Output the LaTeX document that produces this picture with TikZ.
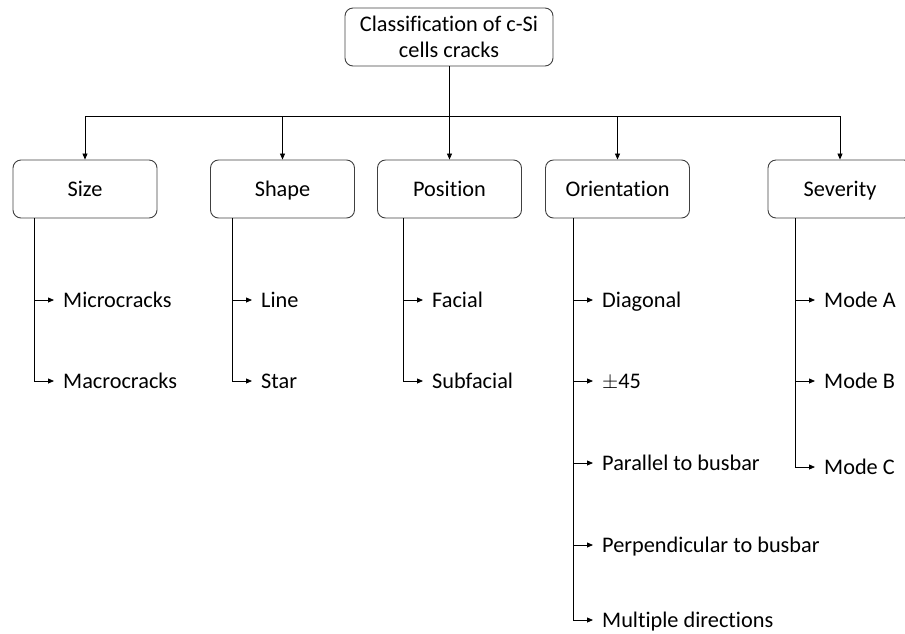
\documentclass[tikz,border=0pt]{standalone}
\usepackage{fontspec}
\setmainfont[Ligatures=NoCommon]{Carlito}
\usetikzlibrary{arrows.meta}
\begin{document}
\begin{tikzpicture}[x=1pt,y=-1pt,
  txt/.style={font=\fontsize{22.3}{26}\selectfont},
  box/.style={txt, draw=black!75, line width=0.9pt, rounded corners=8pt,
    minimum width=144pt, minimum height=58pt, inner sep=0pt},
  cat/.style={box, text height=14pt, text depth=0pt},
  item/.style={txt, anchor=west, inner sep=0pt, text height=14pt, text depth=0pt},
  conn/.style={line width=0.8pt, black},
  arr/.style={conn, -{Triangle[length=6pt,width=5pt]}}]
\clip (0,0) rectangle (905,633);
% root
\node[box, minimum width=208pt, align=center] (root) at (449,37) {Classification of c-Si\\cells cracks};
% categories
\node[cat] (size) at (85,189) {Size};
\node[cat] (shape) at (282.5,189) {Shape};
\node[cat] (pos) at (449.5,189) {Position};
\node[cat] (orient) at (617.5,189) {Orientation};
\node[cat] (sev) at (840,189) {Severity};
% bar
\coordinate (bar) at (449,116);
\coordinate (barL) at (85,116);
\coordinate (barR) at (840,116);
\draw[conn] (root.south) -- (bar);
\draw[conn] (barL) -- (barR);
\foreach \n in {size,shape,pos,orient,sev}{
  \draw[arr] (\n.north |- bar) -- (\n.north);
}
% items
\node[item] (micro) at (63,300) {Microcracks};
\node[item] (macro) at (63,381) {Macrocracks};
\node[item] (line) at (261,300) {Line};
\node[item] (star) at (261,381) {Star};
\node[item] (facial) at (432,300) {Facial};
\node[item] (subfacial) at (432,381) {Subfacial};
\node[item] (diag) at (602,300) {Diagonal};
\node[item] (pm) at (602,381) {$\pm$45};
\node[item] (par) at (602,463) {Parallel to busbar};
\node[item] (perp) at (602,545) {Perpendicular to busbar};
\node[item] (mult) at (602,620) {Multiple directions};
\node[item] (ma) at (824,300) {Mode A};
\node[item] (mb) at (824,381) {Mode B};
\node[item] (mc) at (824,467) {Mode C};
% stems
\coordinate (s1) at (34,218);
\coordinate (s2) at (232,218);
\coordinate (s3) at (403,218);
\coordinate (s4) at (573,218);
\coordinate (s5) at (795,218);
\draw[conn] (s1) -- (s1 |- macro.west);
\draw[conn] (s2) -- (s2 |- star.west);
\draw[conn] (s3) -- (s3 |- subfacial.west);
\draw[conn] (s4) -- (s4 |- mult.west);
\draw[conn] (s5) -- (s5 |- mc.west);
\foreach \s/\n in {s1/micro,s1/macro,s2/line,s2/star,s3/facial,s3/subfacial,
  s4/diag,s4/pm,s4/par,s4/perp,s4/mult,s5/ma,s5/mb,s5/mc}{
  \draw[arr] (\s |- \n.west) -- ([xshift=-9pt]\n.west);
}
\end{tikzpicture}
\end{document}
